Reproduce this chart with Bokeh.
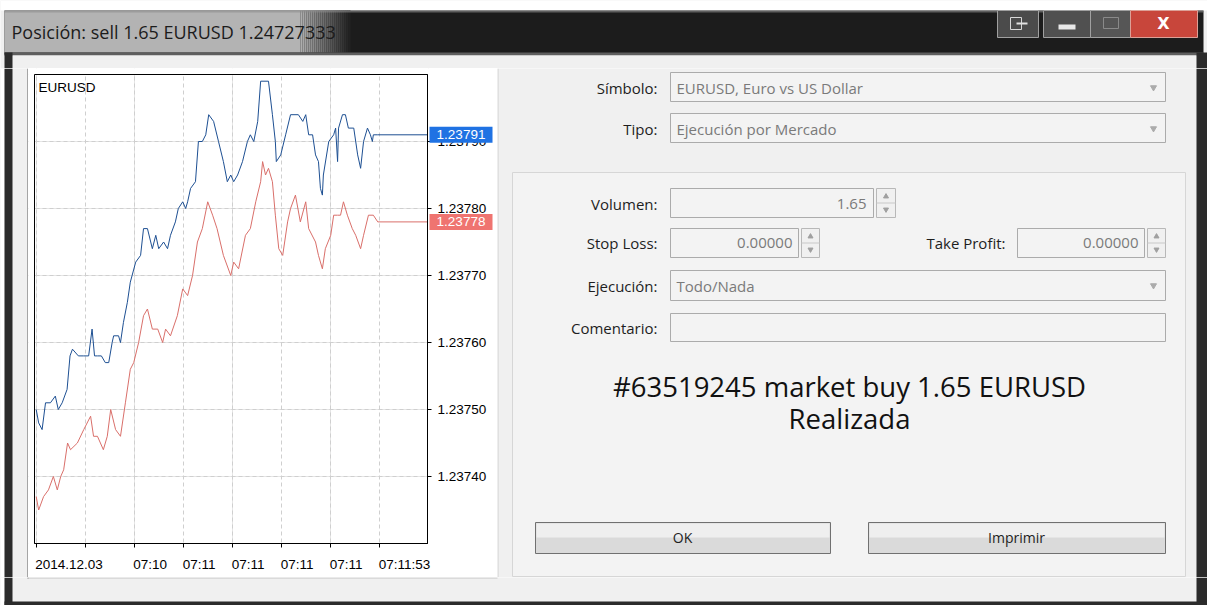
from bokeh.plotting import figure
from bokeh.models import Range1d, FixedTicker, PrintfTickFormatter, LinearAxis, Grid
from bokeh.layouts import row, column
from bokeh.embed import file_html
from bokeh.resources import INLINE
from bokeh.core.properties import value

# ---------------- data ----------------
symbol = "EURUSD"
base_price = 1.23700          # prices below are given in points (0.00001) above this
ask_x = [0, 0.5, 1.2, 1.9, 2.9, 3.9, 4.5, 5.3, 6.3, 6.9, 7.4, 8.6, 9.7, 10.7, 11.4, 11.9, 12.5, 13.3, 14.1, 14.8,
         15.5, 15.8, 16.8, 17.2, 17.8, 18.6, 19.2, 20.3, 21.3, 21.9, 22.7, 23.7, 24.4, 25.0, 26.0, 26.8, 27.4, 28.4,
         29.0, 29.9, 30.5, 30.9, 31.5, 32.5, 33.1, 33.9, 34.6, 35.2, 36.2, 37.2, 38.2, 39.0, 39.7, 40.3, 41.1, 42.1,
         43.1, 43.7, 44.4, 45.2, 45.8, 47.4, 48.2, 48.8, 49.0, 49.9, 50.9, 51.9, 53.5, 54.4, 55.0, 55.6, 56.4, 57.0,
         57.6, 58.0, 58.4, 58.6, 59.7, 60.7, 61.1, 61.5, 61.7, 62.5, 63.1, 63.7, 64.8, 65.6, 66.2, 66.8, 67.6, 68.2,
         68.6, 68.8, 69.7]
ask_pts = [50, 48, 47, 51, 51, 52, 50, 51, 53, 58, 59, 58, 58, 58, 62, 58, 58, 58, 57, 57,
           60, 61, 61, 60, 63, 66, 69, 72, 73, 77, 77, 74, 76, 74, 75, 74, 76, 78,
           80, 81, 80, 81, 83, 84, 90, 90, 91, 94, 93, 90, 87, 84, 85, 84, 85, 87,
           90, 91, 90, 93, 99, 99, 94, 90, 87, 88, 91, 94, 94, 93, 94, 91, 91, 88,
           87, 83, 82, 85, 90, 91, 92, 87, 92, 94, 94, 92, 92, 88, 86, 90, 92, 91,
           90, 91, 91]
bid_x = [0, 0.5, 1.5, 2.5, 3.5, 4.3, 5.0, 5.6, 6.4, 7.0, 8.4, 9.7, 11.1, 11.7, 12.5, 13.7, 14.5, 15.2, 16.2, 17.2,
         18.2, 19.2, 19.9, 20.9, 21.9, 22.7, 23.7, 24.8, 25.8, 26.4, 27.4, 28.8, 29.9, 30.9, 31.9, 32.9, 33.9, 35.0,
         36.0, 36.9, 38.2, 39.7, 40.3, 41.3, 42.7, 43.7, 44.8, 45.8, 46.2, 46.8, 47.4, 48.2, 48.8, 49.5, 50.3, 51.3,
         51.9, 52.9, 53.9, 55.0, 55.6, 57.0, 57.6, 58.4, 59.0, 60.1, 60.7, 61.5, 62.1, 62.7, 63.5, 64.5, 65.2, 66.2,
         66.8, 67.8, 68.8, 69.7]
bid_pts = [37, 35, 37, 38, 40, 38, 40, 41, 45, 44, 45, 47, 49, 46, 46, 44, 46, 50, 47, 46,
           51, 56, 57, 60, 64, 65, 62, 62, 60, 62, 61, 64, 68, 67, 70, 75, 77, 81,
           79, 77, 73, 70, 72, 71, 76, 77, 81, 84, 87, 85, 86, 84, 79, 74, 73, 78,
           80, 82, 78, 81, 77, 75, 73, 71, 74, 76, 79, 79, 79, 81, 79, 77, 76, 74,
           76, 79, 79, 78]
ask_last = 1.23791
bid_last = 1.23778
x_ticks = [0, 10, 20, 30, 40, 50, 60, 70]
x_tick_labels = ["2014.12.03", "", "07:10", "07:11", "07:11", "07:11", "07:11", "07:11:53"]
y_ticks = [1.23740, 1.23750, 1.23760, 1.23770, 1.23780, 1.23790]

title_text = "Posición: sell 1.65 EURUSD 1.24727333"
form_labels = ["Símbolo:", "Tipo:", "Volumen:", "Stop Loss:", "Take Profit:", "Ejecución:", "Comentario:"]
symbol_text = "EURUSD, Euro vs US Dollar"
type_text = "Ejecución por Mercado"
volume_text = "1.65"
sl_text = "0.00000"
tp_text = "0.00000"
exec_text = "Todo/Nada"
result_line1 = "#63519245 market buy 1.65 EURUSD"
result_line2 = "Realizada"
button_texts = ["OK", "Imprimir"]

ask_y = [round(base_price + v * 1e-5, 5) for v in ask_pts]
bid_y = [round(base_price + v * 1e-5, 5) for v in bid_pts]

UI_FONT = "Open Sans"
CH_FONT = "Liberation Sans"
CH_SIZE = 13.5
GREY = "#f0f0f0"
FRAME = "#2b2b2b"
BLUE = "#1d4f92"
RED = "#d96f6a"


def canvas(x0, x1, y0, y1, bg=GREY):
    f = figure(width=x1 - x0, height=y1 - y0, x_range=Range1d(x0, x1), y_range=Range1d(y1, y0),
               x_axis_location=None, y_axis_location=None, output_backend="svg",
               toolbar_location=None, min_border=0)
    f.grid.visible = False
    f.outline_line_color = None
    f.background_fill_color = bg
    f.border_fill_color = bg
    return f


def boxes(f, l, r, t, b, fill, line=None, alpha=1.0):
    f.quad(left=l, right=r, top=t, bottom=b, fill_color=fill, line_color=line, fill_alpha=alpha)


# ---------------- chart (frame = whole white panel, axes fixed at the plot box) ----------------
XMIN, XMAX = -0.35, 79.85
YMIN, YMAX = 1.23730, 1.23800
BOX_L, BOX_R, BOX_T, BOX_B = 34, 427, 74, 543      # plot box (px)
PAN_L, PAN_R, PAN_T, PAN_B = 28, 497, 68, 577      # white panel (px)
kx = (XMAX - XMIN) / (BOX_R - BOX_L)
ky = (YMAX - YMIN) / (BOX_B - BOX_T)
xr = Range1d(XMIN - (BOX_L - PAN_L) * kx, XMAX + (PAN_R - BOX_R) * kx)
yr = Range1d(YMIN - (PAN_B - BOX_B) * ky, YMAX + (BOX_T - PAN_T) * ky)

chart = figure(width=PAN_R - PAN_L, height=PAN_B - PAN_T, x_range=xr, y_range=yr,
               x_axis_location=None, y_axis_location=None, output_backend="svg",
               toolbar_location=None, min_border=0)
chart.background_fill_color = "white"
chart.border_fill_color = "white"
chart.outline_line_color = None

ya = LinearAxis(fixed_location=XMAX, bounds=(YMIN, YMAX), ticker=FixedTicker(ticks=y_ticks),
                formatter=PrintfTickFormatter(format="%.5f"), major_tick_out=4, major_tick_in=0,
                minor_tick_line_color=None, axis_line_color="black", major_label_standoff=6,
                major_label_text_font=CH_FONT, major_label_text_font_size="%gpx" % CH_SIZE,
                major_label_text_color="black")
chart.add_layout(ya, "right")
xa = LinearAxis(fixed_location=YMIN, bounds=(XMIN, XMAX), ticker=FixedTicker(ticks=x_ticks),
                major_label_overrides={t: "" for t in x_ticks}, major_label_text_font_size="0px",
                major_label_standoff=0, major_tick_out=4, major_tick_in=0,
                minor_tick_line_color=None, axis_line_color="black")
chart.add_layout(xa, "below")


def est_width(s):
    return sum(0.556 if c.isdigit() else 0.278 for c in s) * CH_SIZE


lab_ticks, lab_over = [], {}
for t, s in zip(x_ticks, x_tick_labels):
    if s:
        pos = round(t + (est_width(s) / 2 - 1) * kx, 4)
        lab_ticks.append(pos)
        lab_over[pos] = s
xl = LinearAxis(fixed_location=YMIN, ticker=FixedTicker(ticks=lab_ticks), major_label_overrides=lab_over,
                major_tick_line_color=None, minor_tick_line_color=None, axis_line_color=None,
                major_label_standoff=7, major_label_text_font=CH_FONT,
                major_label_text_font_size="%gpx" % CH_SIZE, major_label_text_color="black")
chart.add_layout(xl, "below")

for dim, ticks in [(0, x_ticks), (1, y_ticks)]:
    chart.add_layout(Grid(dimension=dim, ticker=FixedTicker(ticks=ticks), grid_line_color="#cfcfcf",
                          grid_line_dash="4 3"))

# white masks outside the plot box (hide grid overflow)
chart.quad(left=[xr.start, XMAX, XMIN, XMIN], right=[XMIN, xr.end, XMAX, XMAX],
           bottom=[yr.start, yr.start, YMAX, yr.start], top=[yr.end, yr.end, yr.end, YMIN],
           fill_color="white", line_color=None)

chart.line(bid_x, bid_y, line_color=RED, line_width=1)
chart.line(ask_x, ask_y, line_color=BLUE, line_width=1)
chart.line([bid_x[-1], XMAX], [bid_last, bid_last], line_color=RED, line_width=1)
chart.line([ask_x[-1], XMAX], [ask_last, ask_last], line_color=BLUE, line_width=1)
chart.quad(left=[XMIN], right=[XMAX], top=[YMAX], bottom=[YMIN], fill_color=None, line_color="black")
chart.text(x=[XMIN + 4 * kx], y=[YMAX - 5 * ky], text=[symbol], text_font=value(CH_FONT),
           text_font_size="%gpx" % CH_SIZE, text_align="left", text_baseline="top", text_color="black")

# current ask / bid price tags drawn over the axis labels
tag_prices = [ask_last, bid_last]
tag_cols = ["#1f72e3", "#ef7470"]
r1 = chart.quad(left=[XMAX + 2 * kx] * 2, right=[XMAX + 65 * kx] * 2,
                top=[p + 8 * ky for p in tag_prices], bottom=[p - 8 * ky for p in tag_prices],
                fill_color=tag_cols, line_color=None)
r1.level = "overlay"
r2 = chart.text(x=[XMAX + 33.5 * kx] * 2, y=tag_prices, text=["%.5f" % p for p in tag_prices],
                text_font=value(CH_FONT), text_font_size="%gpx" % CH_SIZE, text_align="center",
                text_baseline="middle", text_color="white")
r2.level = "overlay"

# ---------------- top strip: title bar ----------------
W = 1207
top = canvas(0, W, 0, 68)
boxes(top, [0], [W], [0], [10], "white")
boxes(top, [4], [1203], [10], [54], "#1c1c1c")
boxes(top, [4], [300], [10], [52], "#b3b3b3")
n = 25
shades = []
for i in range(n):
    c = int(0xb3 - (0xb3 - 0x22) * (i + 1) / n)
    shades.append("#%02x%02x%02x" % (c, c, c))
boxes(top, [300 + 2 * i for i in range(n)], [302 + 2 * i for i in range(n)], [10] * n, [52] * n, shades)
boxes(top, [4], [1203], [10], [12], "#8c8c8c", alpha=0.6)
boxes(top, [4], [1203], [52], [55], "#5e5e5e")
boxes(top, [12], [1196], [55], [68], GREY)
boxes(top, [4], [12], [52], [68], FRAME)
boxes(top, [1196], [1207], [52], [68], FRAME)
top.line([28, 497], [68.5, 68.5], line_color="#a9a9a9")
top.text(x=[11], y=[31], text=[title_text], text_font=value(UI_FONT), text_font_size="18px",
         text_align="left", text_baseline="middle", text_color="#1c1c1c")
# caption buttons
boxes(top, [997], [1038], [10], [37], "#4b4b4b", "#a0a0a0")
boxes(top, [1043, 1090], [1090, 1130], [10, 10], [37, 37], ["#505050", "#565656"], "#a0a0a0")
boxes(top, [1130], [1197], [10], [37], "#c8463b", "#dca097")
boxes(top, [1010], [1021], [17], [29], None, "#d8d8d8")
top.line([1016, 1027], [23, 23], line_color="#e0e0e0", line_width=2)
boxes(top, [1058], [1075], [24], [29], "#e8e8e8")
boxes(top, [1103], [1118], [17], [28], None, "#8a8a8a")
top.text(x=[1163], y=[23], text=["X"], text_font=value("DejaVu Sans"), text_font_size="16px",
         text_font_style="bold", text_align="center", text_baseline="middle", text_color="white")

# ---------------- left strip ----------------
left = canvas(0, 28, 68, 577)
boxes(left, [0], [4], [68], [577], "white")
boxes(left, [4], [12], [68], [577], FRAME)
left.line([27.5, 27.5], [68, 577], line_color="#5a5a5a")

# ---------------- bottom strip ----------------
bottom = canvas(0, W, 577, 605)
boxes(bottom, [0], [4], [577], [605], "white")
boxes(bottom, [4], [12], [577], [605], FRAME)
boxes(bottom, [1196], [W], [577], [605], FRAME)
boxes(bottom, [4], [1207], [601], [605], FRAME)
bottom.line([28, 497], [577.5, 577.5], line_color="#c4c4c4")
bottom.line([27.5, 27.5], [577, 578], line_color="#5a5a5a")

# ---------------- right panel: order form ----------------
rp = canvas(497, W, 68, 577)
rp.line([497.5, 497.5], [68, 577], line_color="#cfcfcf")
boxes(rp, [1196], [W], [68], [577], FRAME)
boxes(rp, [512], [1185], [172], [576], "#f3f3f3", "#d6d6d6")

FIELD_FILL = "#f3f3f3"
FIELD_LINE = "#ababab"
fl = [670, 670, 670, 670, 1017, 670, 670]
fr = [1165, 1165, 873, 798, 1144, 1165, 1165]
ft = [72, 113, 188, 228, 228, 270, 313]
fb = [101, 142, 217, 257, 257, 300, 341]
boxes(rp, fl, fr, ft, fb, FIELD_FILL, FIELD_LINE)
sl_ = [876, 801, 1147]
sr_ = [895, 819, 1165]
boxes(rp, sl_, sr_, [188, 228, 228], [217, 257, 257], "#f0f0f0", "#b8b8b8")
rp.segment(x0=sl_, x1=sr_, y0=[202.5, 242.5, 242.5], y1=[202.5, 242.5, 242.5], line_color="#c8c8c8")
cx = [(a + b) / 2 for a, b in zip(sl_, sr_)]
rp.scatter(cx, [196, 236, 236], marker="triangle", size=5, color="#a0a0a0")
rp.scatter(cx, [209, 249, 249], marker="inverted_triangle", size=5, color="#a0a0a0")
rp.scatter([1153, 1153, 1153], [87, 128, 285], marker="inverted_triangle", size=6, color="#ababab")

lab_x = [657, 657, 657, 657, 1005, 657, 657]
lab_y = [87, 128, 203, 242, 242, 285, 327]
rp.text(x=lab_x, y=lab_y, text=form_labels, text_font=value(UI_FONT), text_font_size="15px",
        text_align="right", text_baseline="middle", text_color="#1e1e1e")
rp.text(x=[676, 676, 676], y=[87, 128, 285], text=[symbol_text, type_text, exec_text],
        text_font=value(UI_FONT), text_font_size="15px", text_align="left", text_baseline="middle",
        text_color="#7a7a7a")
rp.text(x=[866, 792, 1138], y=[203, 242, 242], text=[volume_text, sl_text, tp_text],
        text_font=value(UI_FONT), text_font_size="15px", text_align="right", text_baseline="middle",
        text_color="#7a7a7a")
rp.text(x=[849, 849], y=[386, 418], text=[result_line1, result_line2], text_font=value(UI_FONT),
        text_font_size="27.5px", text_align="center", text_baseline="middle", text_color="#111111")

bl = [535, 868]
br = [830, 1165]
boxes(rp, bl, br, [522, 522], [553, 553], "#dadada", "#707070")
boxes(rp, [536, 869], [829, 1164], [523, 523], [537, 537], "#efefef")
rp.text(x=[682, 1016], y=[537, 537], text=button_texts, text_font=value(UI_FONT),
        text_font_size="14px", text_align="center", text_baseline="middle", text_color="#1e1e1e")

layout = column(top, row(left, chart, rp), bottom)
open("out.html", "w").write(file_html(layout, INLINE))
